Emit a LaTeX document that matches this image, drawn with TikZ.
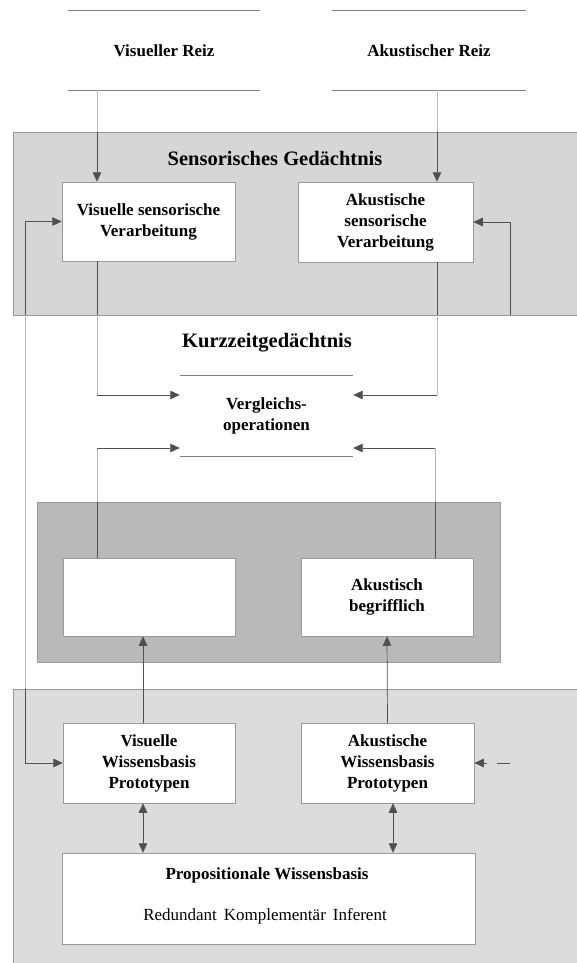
\documentclass[tikz,border=0pt]{standalone}
\usepackage{fontspec}
\setmainfont{Liberation Serif}
\usetikzlibrary{arrows.meta,calc}
\definecolor{sensfill}{HTML}{D6D6D6}
\definecolor{darkfill}{HTML}{B9B9B9}
\definecolor{basefill}{HTML}{DCDCDC}
\definecolor{linec}{HTML}{505050}
\definecolor{edgec}{HTML}{9A9A9A}
\definecolor{fadec}{HTML}{BDBDBD}
\tikzset{
  box/.style={rectangle, fill=white, draw=edgec, line width=0.5pt, inner sep=2pt,
    minimum width=#1, align=center, font=\fontsize{17}{21}\selectfont\bfseries},
  openbox/.style={rectangle, inner sep=2pt, minimum width=#1, align=center,
    font=\fontsize{17}{21}\selectfont\bfseries},
  title/.style={font=\fontsize{20.5}{24}\selectfont\bfseries},
  region/.style={draw=edgec, line width=0.6pt},
  conn/.style={draw=linec, line width=0.7pt},
  tip/.tip={Triangle[length=9.5pt,width=8.5pt]},
  arr/.style={conn, -tip},
  darr/.style={conn, tip-tip},
  faint/.style={draw=fadec, line width=0.6pt},
  rule/.style={draw=gray, line width=0.8pt}
}
\begin{document}
\begin{tikzpicture}[x=1pt,y=-1pt]
\useasboundingbox (0,0) rectangle (577,963);
\fill[white] (0,0) rectangle (577,963);

% memory regions
\path[region, fill=sensfill] (13,132) rectangle (577,315);
\path[region, fill=darkfill] (37,502) rectangle (500,662);
\path[region, fill=basefill] (13,689) rectangle (577,963);

% column and level positions for connectors
\coordinate (xFL) at (25,0);
\coordinate (xL) at (97,0);
\coordinate (xM) at (143,0);
\coordinate (xR) at (437,0);
\coordinate (xRb) at (435,0);
\coordinate (xD) at (393,0);
\coordinate (xFR) at (510,0);
\coordinate (xFRd) at (510,0);
\coordinate (ka) at (0,395);
\coordinate (kb) at (0,448);
\coordinate (senstop) at (0,132);
\coordinate (sensbot) at (0,315);
\coordinate (darktop) at (0,502);
\coordinate (basetop) at (0,689);

% stimuli
\node[openbox=192pt, minimum height=79pt] (vreiz) at (164,50.5) {Visueller Reiz};
\node[openbox=194pt, minimum height=79pt] (areiz) at (429,50.5) {Akustischer Reiz};
\foreach \n in {vreiz,areiz}{
  \draw[rule] (\n.north west) -- (\n.north east);
  \draw[rule] (\n.south west) -- (\n.south east);
}

% sensory memory
\node[title] (senstitle) at (275,158) {Sensorisches Gedächtnis};
\node[box=173pt, minimum height=79pt] (vsv) at (148.5,221.5) {Visuelle sensorische\\Verarbeitung};
\node[box=175pt, minimum height=80pt] (asv) at (385.5,222) {Akustische\\sensorische\\Verarbeitung};

% short-term memory
\node[title] (kztitle) at (267,343) {Kurzzeitgedächtnis};
\node[openbox=173pt, minimum height=80pt] (vgl) at (266.5,416) {Vergleichs-\\operationen};
\draw[rule] (vgl.north west) -- (vgl.north east);
\draw[rule] (vgl.south west) -- (vgl.south east);

\node[box=172pt, minimum height=78pt] (vis) at (149,597) {};
\node[box=172pt, minimum height=78pt] (akb) at (387,597) {Akustisch\\begrifflich};

% knowledge bases
\node[box=172pt, minimum height=80pt] (vwb) at (149,763) {Visuelle\\Wissensbasis\\Prototypen};
\node[box=173pt, minimum height=80pt] (awb) at (387.5,763) {Akustische\\Wissensbasis\\Prototypen};
\node[box=413pt, minimum height=91pt] (pwb) at (268.5,898.5) {};
\node[font=\fontsize{17}{21}\selectfont\bfseries] (pwbt) at (267,875) {Propositionale Wissensbasis};
\node[font=\fontsize{17}{21}\selectfont] (pwbs) at (265,916) {Redundant\hspace{7pt}Komplementär\hspace{7pt}Inferent};

% stimulus inputs
\draw[faint] (vreiz.south -| xL) -- (xL |- senstop);
\draw[arr] (xL |- senstop) -- (vsv.north -| xL);
\draw[faint] (areiz.south -| xR) -- (xR |- senstop);
\draw[arr] (xR |- senstop) -- (asv.north -| xR);

% feedback loops on the sides
\draw[faint] (xFL |- sensbot) -- (xFL |- basetop);
\draw[conn] (xFL |- vsv.west) -- (xFL |- sensbot);
\draw[conn] (xFL |- vwb.west) -- (xFL |- basetop);
\draw[arr] (xFL |- vsv.west) -- (vsv.west);
\draw[arr] (xFL |- vwb.west) -- (vwb.west);
\draw[arr] (xFR |- sensbot) -- (xFR |- asv.east) -- (asv.east);
\draw[arr, dash pattern=on 13pt off 10pt] (xFRd |- awb.east) -- (awb.east);

% into the comparison operations
\draw[faint] (vsv.south -| xL) -- (xL |- ka);
\draw[conn] (vsv.south -| xL) -- (xL |- sensbot);
\draw[arr] (xL |- ka) -- (vgl.west |- ka);
\draw[faint] (asv.south -| xR) -- (xR |- ka);
\draw[conn] (asv.south -| xR) -- (xR |- sensbot);
\draw[arr] (xR |- ka) -- (vgl.east |- ka);
\draw[faint] (vis.north -| xL) -- (xL |- kb);
\draw[conn] (vis.north -| xL) -- (xL |- darktop);
\draw[arr] (xL |- kb) -- (vgl.west |- kb);
\draw[faint] (akb.north -| xRb) -- (xRb |- kb);
\draw[conn] (akb.north -| xRb) -- (xRb |- darktop);
\draw[arr] (xRb |- kb) -- (vgl.east |- kb);

% from knowledge bases upwards
\draw[arr] (vwb.north -| xM) -- (vis.south -| xM);
\draw[arr] (awb.north) -- (akb.south);

% exchange with the propositional base
\draw[darr] (vwb.south -| xM) -- (pwb.north -| xM);
\draw[darr] (awb.south -| xD) -- (pwb.north -| xD);
\end{tikzpicture}
\end{document}
